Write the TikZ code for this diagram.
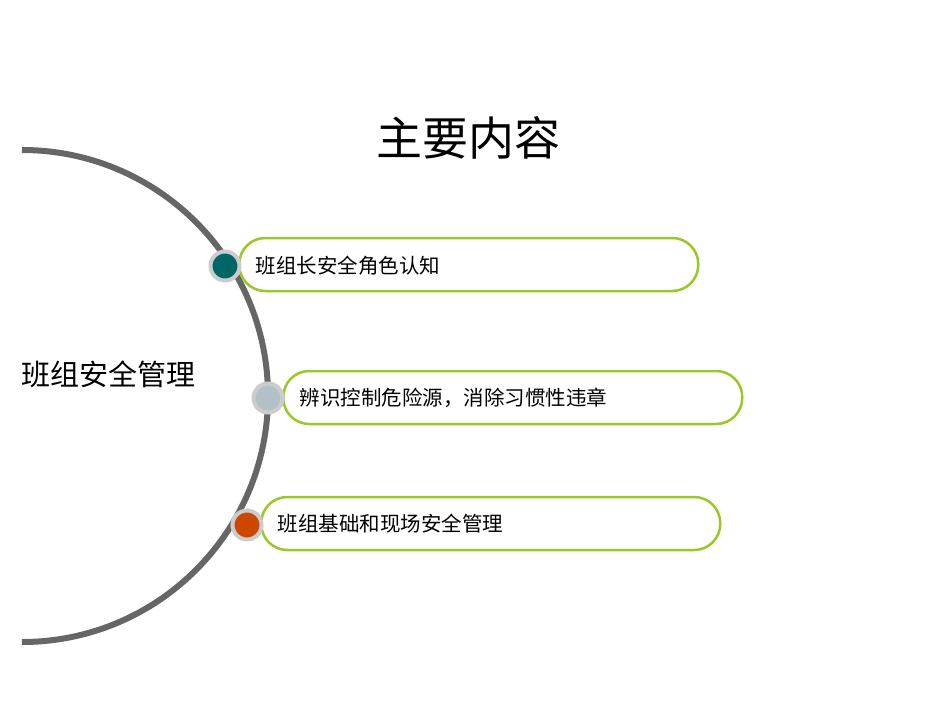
\documentclass[tikz,border=0pt]{standalone}
\usepackage{fontspec}
\newfontfamily\cjk{Noto Sans CJK SC}
\definecolor{pillgreen}{RGB}{154,200,40}
\begin{document}
\begin{tikzpicture}[x=1pt,y=-1pt,
  pill/.style={draw=pillgreen,line width=2.5pt,fill=white,rounded corners=26pt,minimum width=459pt,minimum height=53pt,anchor=west,inner sep=0pt},
  lbl/.style={font=\cjk\fontsize{20.5}{24}\selectfont,anchor=west},
  bullet/.style={circle,minimum size=29pt,inner sep=0pt,draw=gray!40,line width=4pt}]
\useasboundingbox (0,0) rectangle (950,713);
\node[font=\cjk\fontsize{46}{52}\selectfont] (title) at (468,138) {主要内容};
\draw[gray!80!black,line width=6pt] (22,150) arc[start angle=-90,end angle=90,radius=246];
\node[font=\cjk\fontsize{29}{32}\selectfont,anchor=west] (main) at (18,374) {班组安全管理};
\node[pill] (b1) at (238,264.5) {};
\node[pill] (b2) at (282,397.5) {};
\node[pill] (b3) at (260,523.5) {};
\node[lbl] (t1) at (252,266) {班组长安全角色认知};
\node[lbl] (t2) at (296,398) {辨识控制危险源，消除习惯性违章};
\node[lbl] (t3) at (274,524) {班组基础和现场安全管理};
\node[bullet,fill=teal!80!black] (c1) at (225,266) {};
\node[bullet,fill=cyan!20!gray!60] (c2) at (268,398) {};
\node[bullet,fill=orange!70!red!80!black] (c3) at (247,525) {};
\end{tikzpicture}
\end{document}
